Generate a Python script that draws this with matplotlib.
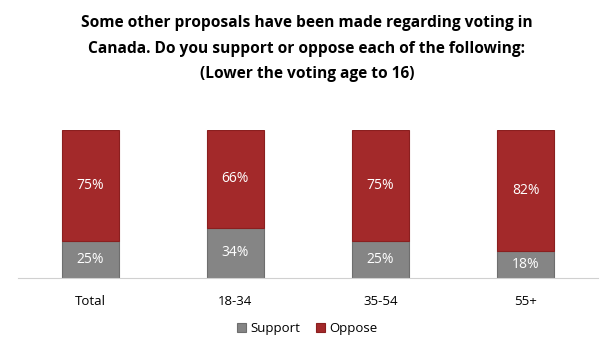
import numpy as np
import matplotlib.pyplot as plt

# data
categories = ['Total', '18-34', '35-54', '55+']
support = [25, 34, 25, 18]
oppose = [75, 66, 75, 82]

RED = '#a3292a'
GRAY = '#858585'
FONT = ['Open Sans', 'DejaVu Sans']

plt.rcParams['font.family'] = FONT

fig = plt.figure(figsize=(6.14, 3.55), dpi=100)
ax = fig.add_axes([0.029, 0.217, 0.945, 0.417])

x = np.arange(len(categories))
w = 0.39
ax.bar(x, support, w, color=GRAY, edgecolor='#6e6e6e', linewidth=0.8, label='Support')
ax.bar(x, oppose, w, bottom=support, color=RED, edgecolor='#8a1f1f', linewidth=0.8, label='Oppose')

for i in range(len(categories)):
    ax.text(x[i], support[i] / 2, f'{support[i]}%', ha='center', va='center',
            color='white', fontsize=10)
    ax.text(x[i], support[i] + oppose[i] / 2, f'{oppose[i]}%', ha='center', va='center',
            color='white', fontsize=10)

ax.set_xlim(-0.5, len(categories) - 0.5)
ax.set_ylim(0, 100)
ax.set_xticks(x)
ax.set_xticklabels(categories, fontsize=9.5)
ax.tick_params(axis='x', length=0, pad=12)
ax.set_yticks([])
for s in ['top', 'right', 'left']:
    ax.spines[s].set_visible(False)
ax.spines['bottom'].set_color('#d0d0d0')

fig.text(0.5, 0.958, 'Some other proposals have been made regarding voting in\n'
         'Canada. Do you support or oppose each of the following:\n'
         '(Lower the voting age to 16)',
         ha='center', va='top', fontsize=11.2, fontweight='bold', linespacing=1.8)

fig.legend(loc='center', bbox_to_anchor=(0.5, 0.075), ncol=2, frameon=False,
           fontsize=9.5, handlelength=0.7, handleheight=0.7, handletextpad=0.3,
           columnspacing=1.2)

fig.savefig('out.png', dpi=100)
